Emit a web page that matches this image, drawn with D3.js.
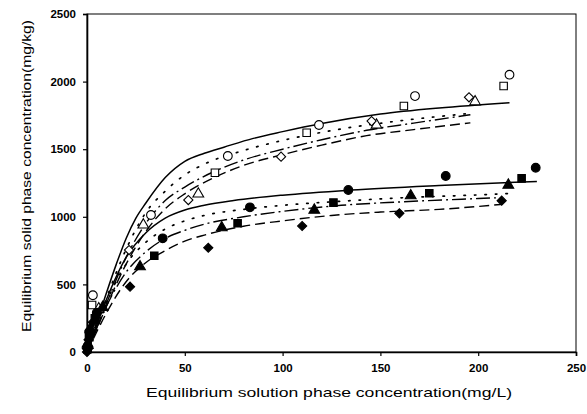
<!DOCTYPE html>
<html><head><meta charset="utf-8">
<script src="https://cdn.jsdelivr.net/npm/d3@7/dist/d3.min.js"></script>
<style>body{margin:0;background:#fff}svg{display:block}</style></head>
<body><svg id="c" width="587" height="414"></svg>
<script>
// ---- data ----
const xTicks = [0, 50, 100, 150, 200, 250];
const yTicks = [0, 500, 1000, 1500, 2000, 2500];
const xTitle = "Equilibrium solution phase concentration(mg/L)";
const yTitle = "Equilibrium solid phase concentration(mg/kg)";

// measured points
const openCircle   = [[0.3,40],[1.2,150],[3,420],[32.7,1013],[72,1450],[118.6,1679],[167.7,1893],[216,2051]];
const openSquare   = [[0.3,30],[1.0,130],[2.6,348],[65.4,1326],[112.3,1622],[162,1820],[213,1967]];
const openTriangle = [[0.4,50],[2,180],[6,320],[28.8,940],[56.9,1169],[148,1679],[198.4,1851]];
const openDiamond  = [[0.3,20],[1.5,160],[21.5,754],[51.8,1124],[99.2,1445],[145.5,1708],[195.3,1884]];
const fillCircle   = [[0.2,30],[1.5,140],[5,290],[38.7,841],[83.3,1070],[133.6,1198],[183.4,1302],[229.4,1363]];
const fillSquare   = [[0.2,20],[1.2,110],[4,250],[34.4,712],[77,952],[126,1105],[175,1174],[222.2,1284]];
const fillTriangle = [[0.3,60],[1.8,170],[8,330],[27.1,631],[68.9,920],[116.2,1050],[165.5,1156],[215.4,1235]];
const fillDiamond  = [[0,0],[0.8,90],[3,220],[22,483],[62,771],[110,932],[159.7,1026],[212,1119]];

// fitted curves (traced)
const upperSolid  = [[0,0],[5,220],[10,440],[15,650],[20,840],[25,990],[30,1100],[40,1290],[50,1410],[60,1470],[70,1515],[85,1580],[100,1630],[120,1690],[150,1760],[180,1805],[216,1844]];
const upperDotted = [[0,0],[5,200],[10,400],[20,760],[30,1030],[40,1190],[50,1310],[60,1390],[80,1490],[100,1565],[130,1650],[160,1710],[196,1765]];
const upperDashDot= [[0,0],[5,180],[10,360],[20,700],[30,950],[40,1120],[50,1220],[65,1335],[80,1420],[100,1500],[120,1570],[143,1640],[167,1693],[196,1755]];
const upperDashed = [[0,0],[5,170],[10,340],[20,650],[30,890],[40,1060],[50,1170],[65,1290],[80,1380],[100,1460],[120,1530],[143,1600],[167,1645],[196,1695]];
const lowerSolid  = [[0,0],[5,200],[10,390],[20,700],[30,880],[40,990],[50,1050],[60,1085],[75,1120],[100,1160],[135,1198],[180,1232],[230,1262]];
const lowerDotted = [[0,0],[5,190],[10,370],[20,650],[30,810],[40,910],[50,970],[60,1010],[80,1055],[100,1085],[130,1115],[160,1140],[200,1162],[215,1172]];
const lowerDashDot= [[0,0],[5,180],[10,340],[20,590],[30,740],[40,840],[50,900],[60,945],[80,1000],[100,1040],[130,1085],[160,1110],[200,1135],[212,1142]];
const lowerDashed = [[0,0],[5,150],[10,290],[20,520],[30,660],[40,750],[50,820],[60,865],[80,930],[100,970],[125,1010],[150,1035],[180,1055],[212,1092]];

// ---- drawing ----
const W = 587, H = 414;
const m = {l: 87, t: 14, r: 11, b: 62};
const svg = d3.select("#c");
const x = d3.scaleLinear().domain([0, 250]).range([m.l, W - m.r]);
const y = d3.scaleLinear().domain([0, 2500]).range([H - m.b, m.t]);
const font = "'Liberation Sans', Arial, sans-serif";

// frame (top & right)
svg.append("rect").attr("x", x(0)).attr("y", y(2500))
  .attr("width", x(250) - x(0)).attr("height", y(0) - y(2500))
  .attr("fill", "none").attr("stroke", "#000").attr("stroke-width", 1);

const gx = svg.append("g").attr("transform", `translate(0,${y(0)})`)
  .call(d3.axisBottom(x).tickValues(xTicks).tickSize(4).tickPadding(8).tickFormat(d3.format("d")));
const gy = svg.append("g").attr("transform", `translate(${x(0)},0)`)
  .call(d3.axisLeft(y).tickValues(yTicks).tickSize(4).tickPadding(7).tickFormat(d3.format("d")));
[gx, gy].forEach(g => {
  g.select(".domain").attr("stroke", "#000").attr("stroke-width", 1.6);
  g.selectAll(".tick line").attr("stroke", "#000").attr("stroke-width", 1.2);
  g.selectAll(".tick text").attr("fill", "#000").style("font-family", font)
    .style("font-size", "11.5px").style("font-weight", "bold");
});

svg.append("text").attr("x", 329).attr("y", 397).attr("text-anchor", "middle")
  .attr("textLength", 366).attr("lengthAdjust", "spacingAndGlyphs")
  .style("font-family", font).style("font-size", "13px")
  .text(xTitle);
svg.append("text").attr("transform", `translate(31,176) rotate(-90)`)
  .attr("text-anchor", "middle")
  .attr("textLength", 312).attr("lengthAdjust", "spacingAndGlyphs")
  .style("font-family", font).style("font-size", "13px")
  .text(yTitle);

const line = d3.line().x(d => x(d[0])).y(d => y(d[1])).curve(d3.curveMonotoneX);
const curves = [
  [upperSolid, null, 1.5], [upperDotted, "1.5,9", 1.7], [upperDashDot, "14,4,2,4", 1.4], [upperDashed, "10,5", 1.4],
  [lowerSolid, null, 1.5], [lowerDotted, "1.5,9", 1.7], [lowerDashDot, "14,4,2,4", 1.4], [lowerDashed, "10,5", 1.4]
];
curves.forEach(([d, dash, w]) => {
  svg.append("path").datum(d).attr("d", line).attr("fill", "none")
    .attr("stroke", "#000").attr("stroke-width", w)
    .attr("stroke-dasharray", dash).attr("stroke-linecap", dash && dash.startsWith("1.5") ? "round" : "butt");
});

const series = [
  [openCircle, d3.symbolCircle, 60, false, 0],
  [openSquare, d3.symbolSquare, 56, false, 0],
  [openTriangle, d3.symbolTriangle, 50, false, 0],
  [openDiamond, d3.symbolSquare, 42, false, 45],
  [fillCircle, d3.symbolCircle, 60, true, 0],
  [fillSquare, d3.symbolSquare, 56, true, 0],
  [fillTriangle, d3.symbolTriangle, 50, true, 0],
  [fillDiamond, d3.symbolSquare, 42, true, 45]
];
series.forEach(([d, type, size, filled, rot]) => {
  svg.append("g").selectAll("path").data(d).join("path")
    .attr("d", d3.symbol().type(type).size(size))
    .attr("transform", p => `translate(${x(p[0])},${y(p[1])}) rotate(${rot})`)
    .attr("fill", filled ? "#000" : "#fff")
    .attr("stroke", "#000").attr("stroke-width", 1.1);
});
</script></body></html>
